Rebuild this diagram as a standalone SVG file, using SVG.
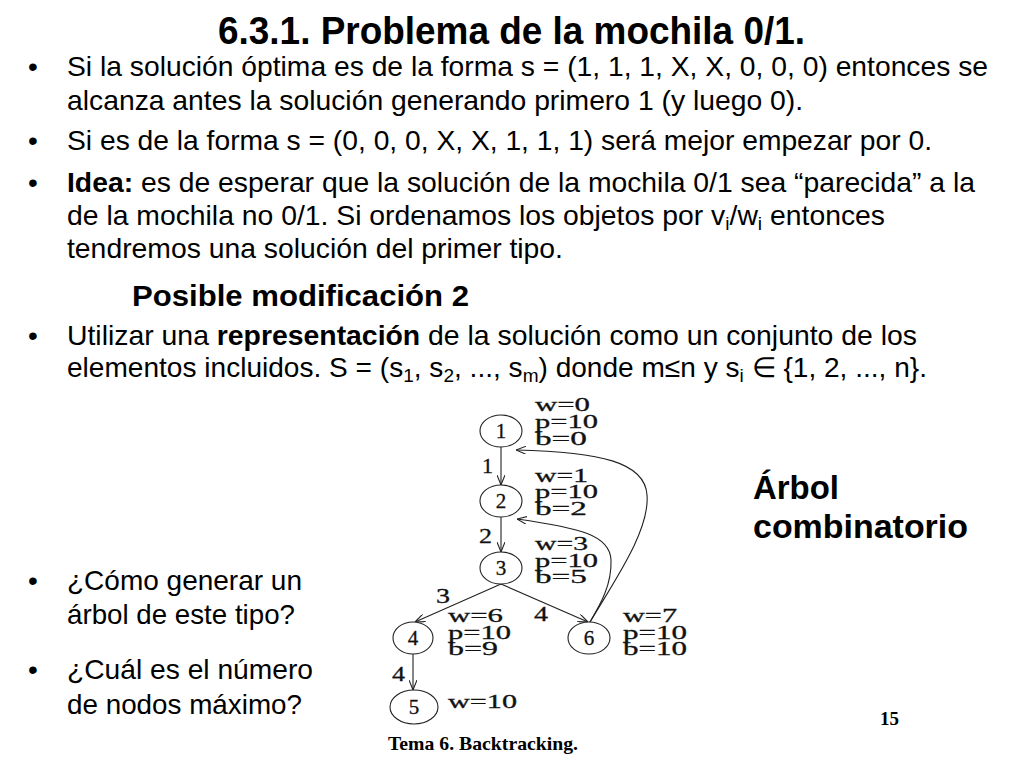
<svg xmlns="http://www.w3.org/2000/svg" width="1024" height="768" viewBox="0 0 1024 768">
<style>
.t{font-family:"Liberation Sans",Arial,sans-serif;font-size:28px;fill:#000}
.b{font-weight:bold}
.sub{font-size:19px}
.s{font-family:"Liberation Serif","Times New Roman",serif;font-size:19px;fill:#111;stroke:#111;stroke-width:0.3}
.e{font-family:"Liberation Serif","Times New Roman",serif;font-size:21px;fill:#111;stroke:#111;stroke-width:0.3}
.n{font-family:"Liberation Serif","Times New Roman",serif;font-size:21px;fill:#111;stroke:#111;stroke-width:0.3;text-anchor:middle}
.node ellipse{fill:#fff;stroke:#222;stroke-width:1.1}
.edges path,.edges line{fill:none;stroke:#222;stroke-width:1.1}
.ft{font-family:"Liberation Serif","Times New Roman",serif;font-size:19px;font-weight:bold;fill:#000}
</style>
<defs>
<marker id="ah" viewBox="0 0 10 8" refX="10" refY="4" markerWidth="10" markerHeight="8" markerUnits="userSpaceOnUse" orient="auto">
<path d="M0,0 L10,4 L0,8" fill="none" stroke="#222" stroke-width="1.1"/>
</marker>
</defs>
<rect width="1024" height="768" fill="#fff"/>

<text class="t b" x="218" y="44" style="font-size:38px" textLength="587" lengthAdjust="spacingAndGlyphs">6.3.1. Problema de la mochila 0/1.</text>

<g id="bullets">
<text class="t" x="28" y="76">•</text>
<text class="t" x="28" y="150">•</text>
<text class="t" x="28" y="192">•</text>
<text class="t" x="28" y="345">•</text>
<text class="t" x="28" y="590">•</text>
<text class="t" x="28" y="679">•</text>
</g>

<text class="t" x="67" y="76" textLength="921" lengthAdjust="spacingAndGlyphs">Si la solución óptima es de la forma s = (1, 1, 1, X, X, 0, 0, 0) entonces se</text>
<text class="t" x="67" y="110" textLength="736" lengthAdjust="spacingAndGlyphs">alcanza antes la solución generando primero 1 (y luego 0).</text>
<text class="t" x="67" y="150" textLength="865" lengthAdjust="spacingAndGlyphs">Si es de la forma s = (0, 0, 0, X, X, 1, 1, 1) será mejor empezar por 0.</text>
<text class="t" x="67" y="192" textLength="908" lengthAdjust="spacingAndGlyphs"><tspan class="b">Idea:</tspan> es de esperar que la solución de la mochila 0/1 sea “parecida” a la</text>
<text class="t" x="67" y="225" textLength="818" lengthAdjust="spacingAndGlyphs">de la mochila no 0/1. Si ordenamos los objetos por v<tspan class="sub" dy="5">i</tspan><tspan dy="-5">/w</tspan><tspan class="sub" dy="5">i</tspan><tspan dy="-5"> entonces</tspan></text>
<text class="t" x="67" y="258" textLength="496" lengthAdjust="spacingAndGlyphs">tendremos una solución del primer tipo.</text>

<text class="t b" x="132" y="306" style="font-size:30px" textLength="337" lengthAdjust="spacingAndGlyphs">Posible modificación 2</text>

<text class="t" x="67" y="345" textLength="850" lengthAdjust="spacingAndGlyphs">Utilizar una <tspan class="b">representación</tspan> de la solución como un conjunto de los</text>
<text class="t" x="67" y="377" textLength="860" lengthAdjust="spacingAndGlyphs">elementos incluidos. S = (s<tspan class="sub" dy="5">1</tspan><tspan dy="-5">, s</tspan><tspan class="sub" dy="5">2</tspan><tspan dy="-5">, ..., s</tspan><tspan class="sub" dy="5">m</tspan><tspan dy="-5">) donde m≤n y s</tspan><tspan class="sub" dy="5">i</tspan><tspan dy="-5"> ∈ {1, 2, ..., n}.</tspan></text>

<text class="t" x="67" y="590" textLength="235" lengthAdjust="spacingAndGlyphs">¿Cómo generar un</text>
<text class="t" x="67" y="624" textLength="228" lengthAdjust="spacingAndGlyphs">árbol de este tipo?</text>
<text class="t" x="67" y="679" textLength="246" lengthAdjust="spacingAndGlyphs">¿Cuál es el número</text>
<text class="t" x="67" y="714" textLength="235" lengthAdjust="spacingAndGlyphs">de nodos máximo?</text>

<text class="t b" x="753" y="499" style="font-size:34px" textLength="86" lengthAdjust="spacingAndGlyphs">Árbol</text>
<text class="t b" x="753" y="538" style="font-size:34px" textLength="215" lengthAdjust="spacingAndGlyphs">combinatorio</text>

<g id="connectors" class="edges">
<line x1="501" y1="447" x2="501" y2="485" marker-end="url(#ah)"/>
<line x1="501" y1="517" x2="501" y2="552" marker-end="url(#ah)"/>
<line x1="501" y1="584" x2="415" y2="622" marker-end="url(#ah)"/>
<line x1="501" y1="584" x2="588" y2="622" marker-end="url(#ah)"/>
<line x1="413" y1="654" x2="413" y2="690" marker-end="url(#ah)"/>
<path d="M590,622 C615,580 650,530 647,495 C645,462 600,452 516,450" marker-end="url(#ah)"/>
<path d="M590,622 C600,605 612,585 611,560 C610,535 580,528 517,519" marker-end="url(#ah)"/>
<text class="e" x="482" y="473" textLength="11" lengthAdjust="spacingAndGlyphs">1</text>
<text class="e" x="479" y="543" textLength="13" lengthAdjust="spacingAndGlyphs">2</text>
<text class="e" x="436" y="603" textLength="14" lengthAdjust="spacingAndGlyphs">3</text>
<text class="e" x="534" y="621" textLength="14" lengthAdjust="spacingAndGlyphs">4</text>
<text class="e" x="392" y="681" textLength="13" lengthAdjust="spacingAndGlyphs">4</text>
</g>

<g id="node1" class="node">
<ellipse cx="501" cy="431" rx="21" ry="16"/>
<text class="n" x="501" y="438">1</text>
<text class="s" x="535" y="411" textLength="55" lengthAdjust="spacingAndGlyphs">w=0</text>
<text class="s" x="535" y="428" textLength="63" lengthAdjust="spacingAndGlyphs">p=10</text>
<text class="s" x="535" y="445" textLength="52" lengthAdjust="spacingAndGlyphs">b=0</text>
</g>
<g id="node2" class="node">
<ellipse cx="501" cy="501" rx="21" ry="16"/>
<text class="n" x="501" y="508">2</text>
<text class="s" x="535" y="482" textLength="53" lengthAdjust="spacingAndGlyphs">w=1</text>
<text class="s" x="535" y="498" textLength="63" lengthAdjust="spacingAndGlyphs">p=10</text>
<text class="s" x="535" y="515" textLength="52" lengthAdjust="spacingAndGlyphs">b=2</text>
</g>
<g id="node3" class="node">
<ellipse cx="501" cy="568" rx="21" ry="16"/>
<text class="n" x="501" y="575">3</text>
<text class="s" x="535" y="550" textLength="53" lengthAdjust="spacingAndGlyphs">w=3</text>
<text class="s" x="535" y="567" textLength="63" lengthAdjust="spacingAndGlyphs">p=10</text>
<text class="s" x="535" y="583" textLength="52" lengthAdjust="spacingAndGlyphs">b=5</text>
</g>
<g id="node4" class="node">
<ellipse cx="413" cy="638" rx="20" ry="16"/>
<text class="n" x="413" y="645">4</text>
<text class="s" x="448" y="622" textLength="55" lengthAdjust="spacingAndGlyphs">w=6</text>
<text class="s" x="448" y="639" textLength="63" lengthAdjust="spacingAndGlyphs">p=10</text>
<text class="s" x="448" y="655" textLength="50" lengthAdjust="spacingAndGlyphs">b=9</text>
</g>
<g id="node6" class="node">
<ellipse cx="589" cy="638" rx="21" ry="16"/>
<text class="n" x="589" y="645">6</text>
<text class="s" x="623" y="622" textLength="54" lengthAdjust="spacingAndGlyphs">w=7</text>
<text class="s" x="623" y="639" textLength="64" lengthAdjust="spacingAndGlyphs">p=10</text>
<text class="s" x="623" y="655" textLength="64" lengthAdjust="spacingAndGlyphs">b=10</text>
</g>
<g id="node5" class="node">
<ellipse cx="414" cy="707" rx="24" ry="17"/>
<text class="n" x="414" y="714">5</text>
<text class="s" x="448" y="708" textLength="69" lengthAdjust="spacingAndGlyphs">w=10</text>
</g>

<text class="ft" x="880" y="725" textLength="19" lengthAdjust="spacingAndGlyphs">15</text>
<text class="ft" x="388" y="750" textLength="190" lengthAdjust="spacingAndGlyphs">Tema 6. Backtracking.</text>
</svg>
